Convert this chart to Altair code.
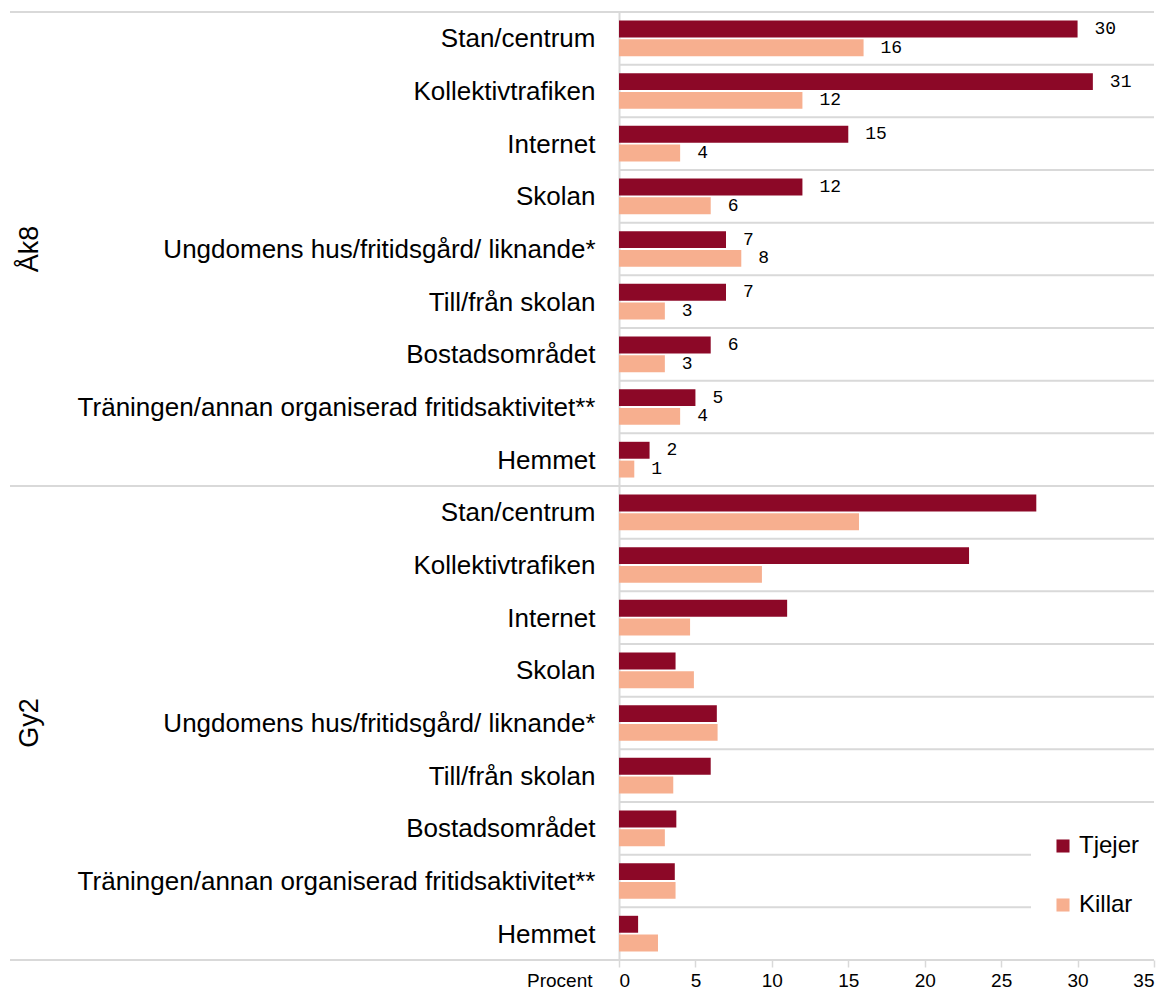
import altair as alt
import pandas as pd

groups = ["Åk8", "Gy2"]
categories = [
    "Stan/centrum",
    "Kollektivtrafiken",
    "Internet",
    "Skolan",
    "Ungdomens hus/fritidsgård/ liknande*",
    "Till/från skolan",
    "Bostadsområdet",
    "Träningen/annan organiserad fritidsaktivitet**",
    "Hemmet",
]
genders = ["Tjejer", "Killar"]
ak8_tjejer = [30, 31, 15, 12, 7, 7, 6, 5, 2]
ak8_killar = [16, 12, 4, 6, 8, 3, 3, 4, 1]
gy2_tjejer = [27.3, 22.9, 11.0, 3.7, 6.4, 6.0, 3.75, 3.65, 1.25]
gy2_killar = [15.7, 9.35, 4.65, 4.9, 6.45, 3.55, 3.0, 3.7, 2.55]
x_ticks = [0, 5, 10, 15, 20, 25, 30, 35]

DARK = "#8C0827"
LIGHT = "#F7AF8F"
GRID = "#D9D9D9"
FONT = "Liberation Sans"
W, H = 535, 948

rows = []
for g, tj, ki in [("Åk8", ak8_tjejer, ak8_killar), ("Gy2", gy2_tjejer, gy2_killar)]:
    for i, c in enumerate(categories):
        key = f"{g}|{c}"
        rows.append(dict(group=g, key=key, gender="Tjejer", value=tj[i]))
        rows.append(dict(group=g, key=key, gender="Killar", value=ki[i]))
df = pd.DataFrame(rows)
keys = [f"{g}|{c}" for g in groups for c in categories]

first_keys = [f"{g}|{categories[0]}" for g in groups]
short_keys = [k for k in keys if k not in first_keys]
group_df = pd.DataFrame({"key": [f"{g}|{categories[4]}" for g in groups], "label": groups})

yscale = alt.Scale(domain=keys, paddingInner=0, paddingOuter=0)
yoff_scale = alt.Scale(domain=genders, paddingInner=0.1, paddingOuter=0.45)

yaxis = alt.Axis(
    labelExpr="split(datum.label, '|')[1]",
    labelFont=FONT,
    labelFontSize=26,
    labelColor="black",
    labelLimit=700,
    labelPadding=24,
    labelOffset=1,
    ticks=False,
    tickSize=0,
    domain=True,
    domainColor=GRID,
    domainWidth=2,
    grid=False,
    title=None,
)
xaxis = alt.Axis(
    values=x_ticks,
    title="Procent",
    titleX=-27,
    titleY=11,
    titleAlign="right",
    titleBaseline="top",
    titleAngle=0,
    titleFont=FONT,
    titleFontSize=19,
    titleFontWeight="normal",
    titleColor="black",
    labelFont=FONT,
    labelFontSize=19,
    labelColor="black",
    labelPadding=4,
    domain=False,
    ticks=True,
    tickColor=GRID,
    tickSize=7,
    tickWidth=1.5,
    grid=False,
)
xscale = alt.Scale(domain=[0, 35], nice=False)


def ykey(band=None):
    if band is None:
        return alt.Y("key:N", scale=yscale, axis=yaxis, title=None)
    return alt.Y("key:N", bandPosition=band, scale=yscale, axis=yaxis, title=None)


rule_short = alt.Chart(pd.DataFrame({"key": short_keys})).mark_rule(
    color=GRID, strokeWidth=2
).encode(y=ykey(0), x=alt.value(0), x2=alt.value(W))
rule_long = alt.Chart(pd.DataFrame({"key": first_keys})).mark_rule(
    color=GRID, strokeWidth=2
).encode(y=ykey(0), x=alt.value(-609), x2=alt.value(W))
rule_bottom = alt.Chart(pd.DataFrame({"key": [keys[-1]]})).mark_rule(
    color=GRID, strokeWidth=2
).encode(y=ykey(1), x=alt.value(-609), x2=alt.value(W))

bars = alt.Chart(df).mark_bar().encode(
    x=alt.X("value:Q", scale=xscale, axis=xaxis),
    y=ykey(),
    yOffset=alt.YOffset("gender:N", scale=yoff_scale),
    color=alt.Color(
        "gender:N",
        scale=alt.Scale(domain=genders, range=[DARK, LIGHT]),
        legend=alt.Legend(
            title=None,
            orient="none",
            legendX=412,
            legendY=802,
            direction="vertical",
            symbolType="square",
            symbolSize=170,
            symbolStrokeWidth=0,
            symbolOpacity=1,
            labelFont=FONT,
            labelFontSize=24,
            labelColor="black",
            labelOffset=4,
            rowPadding=35,
            padding=20,
            fillColor="white",
        ),
    ),
)

labels = alt.Chart(df).transform_filter("datum.group == 'Åk8'").mark_text(
    align="left", baseline="middle", dx=17, font="Liberation Mono", fontSize=18, color="black"
).encode(
    x=alt.X("value:Q", scale=xscale, axis=xaxis),
    y=ykey(),
    yOffset=alt.YOffset("gender:N", scale=yoff_scale),
    text=alt.Text("value:Q", format=".0f"),
)

group_labels = alt.Chart(group_df).mark_text(
    angle=270, align="center", baseline="middle", font=FONT, fontSize=27, color="black"
).encode(
    y=ykey(),
    x=alt.value(-589),
    text="label:N",
)

chart = alt.layer(rule_short, rule_long, rule_bottom, bars, labels, group_labels).properties(
    width=W,
    height=H,
    padding={"left": 611, "top": 4, "right": 8, "bottom": 30},
    autosize=alt.AutoSizeParams(type="none"),
    background="white",
).configure_view(stroke=None)

chart.save("out.html", embed_options={"renderer": "svg", "actions": False})
